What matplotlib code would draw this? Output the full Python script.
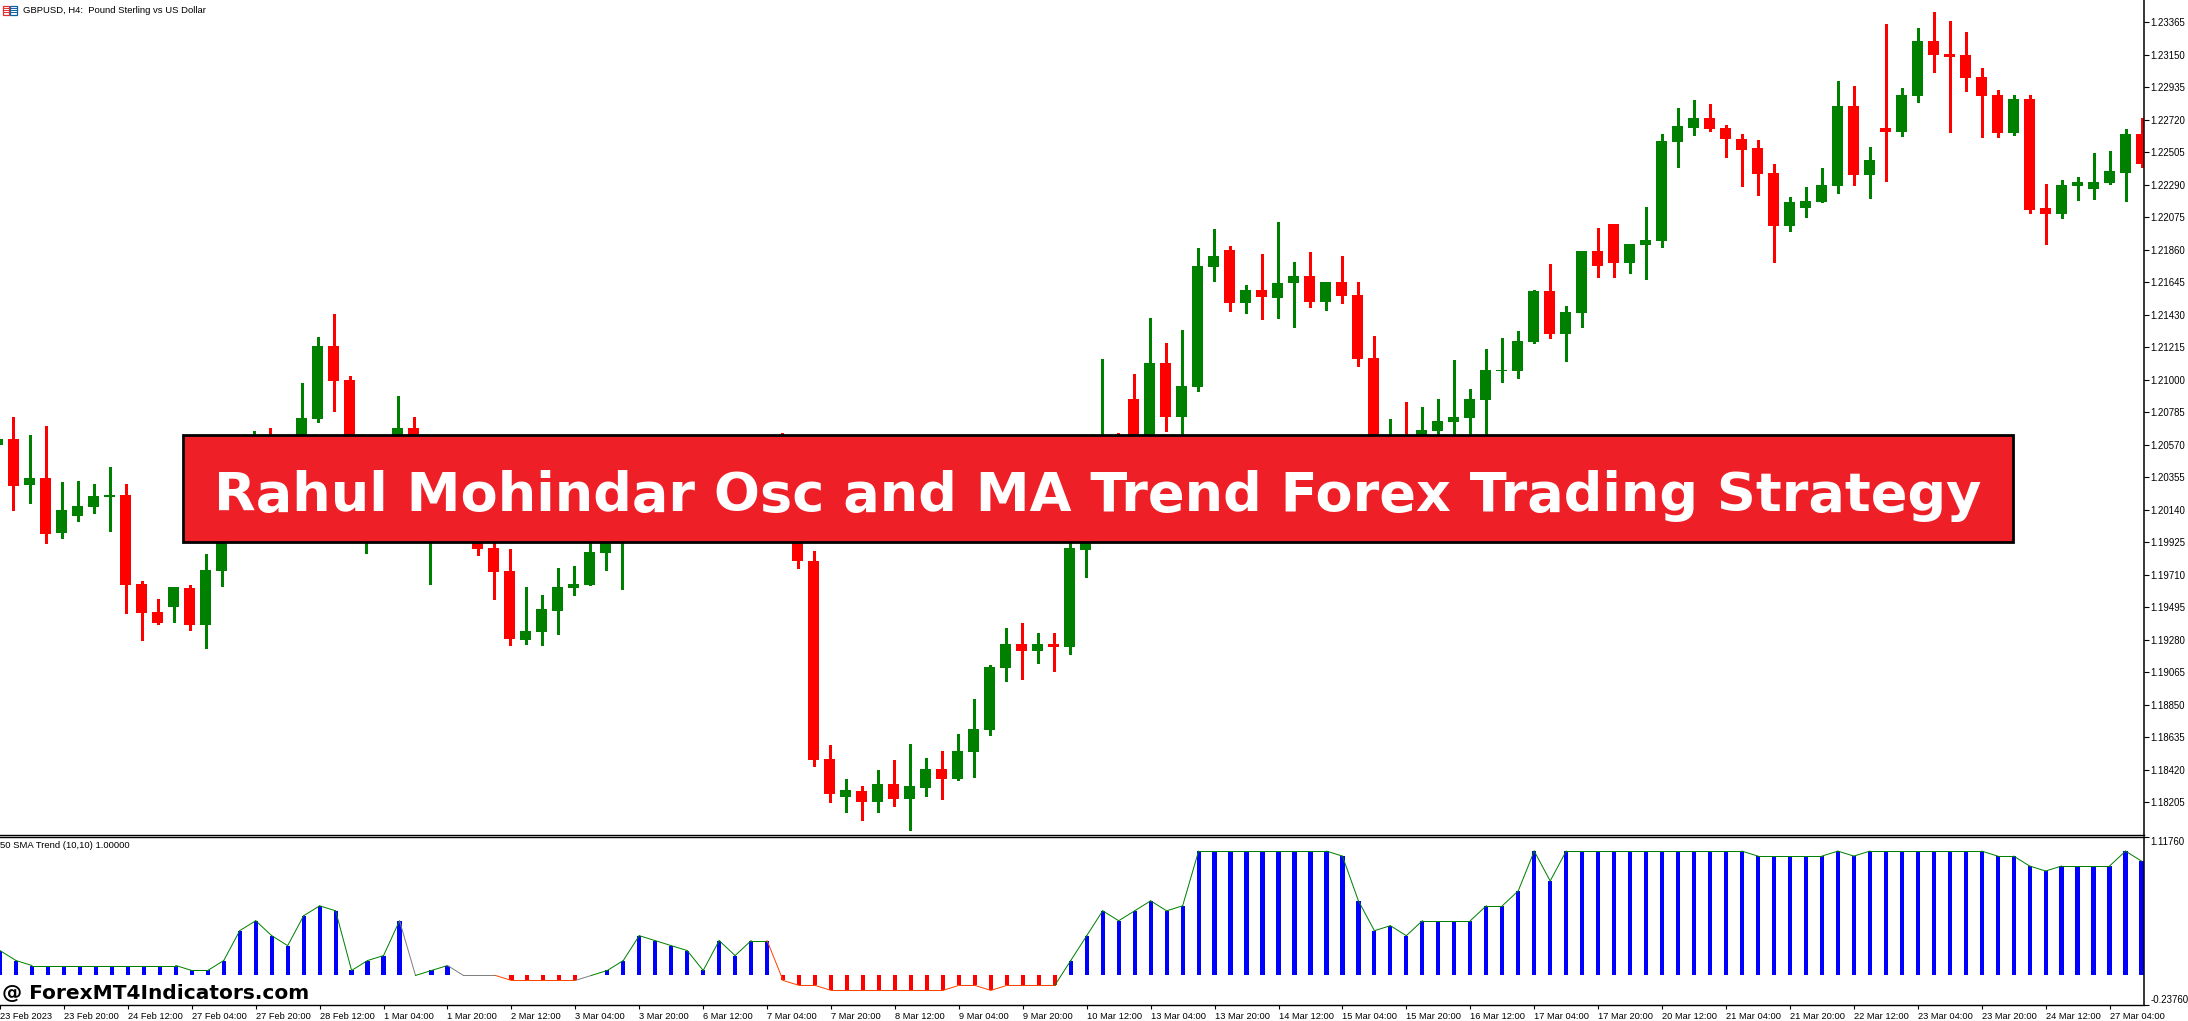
import matplotlib
matplotlib.use("Agg")
import numpy as np
import matplotlib.pyplot as plt
from matplotlib.patches import Rectangle

W, H = 2188, 1021

# first bar sits just off the left edge of the chart
bar_start = -1
opens = [1.20568,1.20608,1.20304,1.20350,1.19986,1.20099,1.20158,1.20224,1.20238,1.19649,1.19464,1.19497,1.19622,1.19378,1.19735,
    1.20337,1.20403,1.20601,1.20436,1.20535,1.20740,1.21223,1.20998,1.20072,1.20403,1.20403,1.20681,1.20138,1.20337,1.20271,
    1.20072,1.19887,1.19735,1.19278,1.19331,1.19470,1.19622,1.19642,1.19854,1.20006,1.20204,1.20138,1.20337,1.20238,1.20337,
    1.20469,1.20271,1.20403,1.20568,1.20535,1.20204,1.19801,1.18491,1.18240,1.18280,1.18207,1.18326,1.18227,1.18299,1.18425,
    1.18359,1.18537,1.18683,1.19093,1.19249,1.19206,1.19249,1.19235,1.19874,1.20072,1.20403,1.20873,1.20403,1.21111,1.20754,
    1.20952,1.21746,1.21858,1.21508,1.21594,1.21541,1.21640,1.21686,1.21514,1.21647,1.21561,1.21144,1.20403,1.20601,1.20535,
    1.20661,1.20720,1.20747,1.20866,1.21058,1.21058,1.21250,1.21587,1.21303,1.21441,1.21852,1.22030,1.21772,1.21891,1.21918,
    1.22573,1.22665,1.22731,1.22665,1.22593,1.22533,1.22368,1.22017,1.22136,1.22176,1.22282,1.22811,1.22354,1.22665,1.22639,
    1.22877,1.23241,1.23155,1.23148,1.23003,1.22884,1.22632,1.22857,1.22136,1.22096,1.22282,1.22262,1.22301,1.22368,1.22626]
highs = [1.20701,1.20754,1.20634,1.20694,1.20324,1.20330,1.20310,1.20423,1.20310,1.19669,1.19550,1.19629,1.19642,1.19847,1.20601,
    1.20615,1.20661,1.20681,1.20601,1.20978,1.21283,1.21435,1.21025,1.20601,1.20535,1.20892,1.20754,1.20601,1.20469,1.20403,
    1.20204,1.19953,1.19880,1.19629,1.19576,1.19755,1.19768,1.19973,1.20204,1.20403,1.20271,1.20403,1.20403,1.20469,1.20535,
    1.20568,1.20568,1.20601,1.20601,1.20648,1.20271,1.19867,1.18584,1.18359,1.18313,1.18418,1.18485,1.18590,1.18498,1.18544,
    1.18657,1.18888,1.19113,1.19358,1.19391,1.19325,1.19322,1.19940,1.20138,1.21137,1.20648,1.21038,1.21408,1.21243,1.21329,
    1.21871,1.21997,1.21885,1.21627,1.21832,1.22044,1.21779,1.21845,1.21647,1.21819,1.21647,1.21289,1.20740,1.20853,1.20820,
    1.20873,1.21131,1.20939,1.21203,1.21276,1.21322,1.21594,1.21766,1.21488,1.21852,1.22004,1.22030,1.21898,1.22143,1.22626,
    1.22798,1.22851,1.22824,1.22685,1.22626,1.22586,1.22427,1.22209,1.22275,1.22401,1.22976,1.22943,1.22540,1.23353,1.22930,
    1.23327,1.23433,1.23373,1.23300,1.23062,1.22917,1.22884,1.22884,1.22295,1.22321,1.22341,1.22500,1.22513,1.22659,1.22731]
lows = [1.20535,1.20138,1.20185,1.19920,1.19953,1.20066,1.20119,1.20000,1.19457,1.19278,1.19384,1.19397,1.19345,1.19225,1.19636,
    1.20271,1.20271,1.20337,1.20337,1.20469,1.20720,1.20793,1.20072,1.19854,1.20204,1.20271,1.20469,1.19649,1.20006,1.19953,
    1.19841,1.19550,1.19245,1.19252,1.19245,1.19318,1.19576,1.19642,1.19741,1.19616,1.20006,1.20072,1.20138,1.20171,1.20271,
    1.20204,1.20204,1.20337,1.20138,1.20072,1.19755,1.18445,1.18207,1.18141,1.18088,1.18141,1.18180,1.18021,1.18247,1.18227,
    1.18352,1.18372,1.18650,1.19007,1.19020,1.19126,1.19073,1.19186,1.19692,1.20006,1.20138,1.20337,1.20337,1.20661,1.20568,
    1.20926,1.21653,1.21455,1.21441,1.21402,1.21408,1.21349,1.21481,1.21461,1.21508,1.21091,1.20171,1.20337,1.20337,1.20469,
    1.20601,1.20568,1.20601,1.20535,1.20985,1.21012,1.21243,1.21276,1.21124,1.21349,1.21680,1.21680,1.21706,1.21666,1.21878,
    1.22407,1.22619,1.22645,1.22473,1.22282,1.22222,1.21779,1.21984,1.22077,1.22176,1.22235,1.22288,1.22202,1.22315,1.22612,
    1.22837,1.23036,1.22639,1.22910,1.22606,1.22606,1.22619,1.22103,1.21898,1.22070,1.22189,1.22196,1.22295,1.22182,1.22407]
closes = [1.20608,1.20297,1.20350,1.19980,1.20138,1.20165,1.20231,1.20238,1.19642,1.19457,1.19391,1.19629,1.19378,1.19741,1.20337,
    1.20568,1.20601,1.20436,1.20568,1.20747,1.21223,1.20992,1.20204,1.20403,1.20271,1.20681,1.20568,1.20403,1.20204,1.20006,
    1.19880,1.19728,1.19285,1.19338,1.19483,1.19629,1.19649,1.19860,1.20138,1.20204,1.20072,1.20337,1.20204,1.20403,1.20469,
    1.20271,1.20502,1.20568,1.20204,1.20204,1.19801,1.18485,1.18260,1.18286,1.18207,1.18326,1.18227,1.18313,1.18425,1.18359,
    1.18544,1.18690,1.19100,1.19249,1.19206,1.19249,1.19235,1.19887,1.20072,1.20403,1.20204,1.20403,1.21111,1.20754,1.20959,
    1.21752,1.21819,1.21508,1.21594,1.21547,1.21640,1.21686,1.21514,1.21647,1.21554,1.21137,1.20271,1.20601,1.20403,1.20668,
    1.20724,1.20754,1.20873,1.21064,1.21064,1.21256,1.21587,1.21303,1.21448,1.21852,1.21752,1.21772,1.21898,1.21924,1.22579,
    1.22679,1.22731,1.22659,1.22593,1.22520,1.22361,1.22017,1.22176,1.22182,1.22288,1.22811,1.22354,1.22454,1.22639,1.22884,
    1.23241,1.23148,1.23135,1.22996,1.22877,1.22632,1.22857,1.22123,1.22096,1.22288,1.22308,1.22308,1.22381,1.22626,1.22427]

# oscillator values, same bars as the candles
osc_values = [0.20,0.12,0.08,0.08,0.08,0.08,0.08,0.08,0.08,0.08,0.08,0.08,0.04,0.04,0.12,0.36,0.44,0.32,0.24,0.48,0.56,0.52,
    0.04,0.12,0.16,0.44,0.00,0.04,0.08,0.00,0.00,0.00,-0.04,-0.04,-0.04,-0.04,-0.04,0.00,0.04,0.12,0.32,0.28,0.24,0.20,0.04,
    0.28,0.16,0.28,0.28,-0.04,-0.08,-0.08,-0.12,-0.12,-0.12,-0.12,-0.12,-0.12,-0.12,-0.12,-0.08,-0.08,-0.12,-0.08,-0.08,-0.08,
    -0.08,0.12,0.32,0.52,0.44,0.52,0.60,0.52,0.56,1.00,1.00,1.00,1.00,1.00,1.00,1.00,1.00,1.00,0.96,0.60,0.36,0.40,0.32,0.44,
    0.44,0.44,0.44,0.56,0.56,0.68,1.00,0.76,1.00,1.00,1.00,1.00,1.00,1.00,1.00,1.00,1.00,1.00,1.00,1.00,0.96,0.96,0.96,0.96,
    0.96,1.00,0.96,1.00,1.00,1.00,1.00,1.00,1.00,1.00,1.00,0.96,0.96,0.88,0.84,0.88,0.88,0.88,0.88,1.00,0.92]

price_ticks = ["1.23365","1.23150","1.22935","1.22720","1.22505","1.22290","1.22075","1.21860","1.21645","1.21430","1.21215","1.21000",
    "1.20785","1.20570","1.20355","1.20140","1.19925","1.19710","1.19495","1.19280","1.19065","1.18850","1.18635","1.18420","1.18205"]

date_labels = ["23 Feb 2023","23 Feb 20:00","24 Feb 12:00","27 Feb 04:00","27 Feb 20:00","28 Feb 12:00","1 Mar 04:00","1 Mar 20:00",
    "2 Mar 12:00","3 Mar 04:00","3 Mar 20:00","6 Mar 12:00","7 Mar 04:00","7 Mar 20:00","8 Mar 12:00","9 Mar 04:00","9 Mar 20:00",
    "10 Mar 12:00","13 Mar 04:00","13 Mar 20:00","14 Mar 12:00","15 Mar 04:00","15 Mar 20:00","16 Mar 12:00","17 Mar 04:00",
    "17 Mar 20:00","20 Mar 12:00","21 Mar 04:00","21 Mar 20:00","22 Mar 12:00","23 Mar 04:00","23 Mar 20:00","24 Mar 12:00","27 Mar 04:00"]

title = "Rahul Mohindar Osc and MA Trend Forex Trading Strategy"
watermark = "@ ForexMT4Indicators.com"
symbol_label = "GBPUSD, H4:  Pound Sterling vs US Dollar"
osc_label = "50 SMA Trend (10,10) 1.00000"

GREEN = "#008000"
RED = "#FF0000"
BLUE = "#0000FF"
FONT = "Liberation Sans"
HEAVY_FONT = "DejaVu Sans"


def fig_rect(left, top, right, bottom):
    # pixel box (y down) to figure fractions
    return [left / W, 1 - bottom / H, (right - left) / W, (bottom - top) / H]


plt.rcParams["font.family"] = FONT
fig = plt.figure(figsize=(W / 100, H / 100), dpi=100, facecolor="white")
ax = fig.add_axes(fig_rect(0, 0, 2144.3, 834.5))
ax_osc = fig.add_axes(fig_rect(0, 836.5, 2144.3, 1005))

xs = np.arange(len(opens)) + bar_start
o, h, l, c = map(np.array, (opens, highs, lows, closes))
colors = [GREEN if b >= a else RED for a, b in zip(o, c)]

# candles
ax.vlines(xs, l, h, colors=colors, linewidth=0.75, antialiased=False)
ax.bar(xs, np.abs(c - o), bottom=np.minimum(o, c), width=11 / 16, color=colors, linewidth=0, antialiased=False)
x_range = (-13.5 / 16, (2144.3 - 13.5) / 16)
ax.set_xlim(*x_range)
ax.set_ylim(1.17992, 1.23512)
ax.set_xticks([])
ax.yaxis.tick_right()
ax.set_yticks([float(t) for t in price_ticks], price_ticks)

# oscillator histogram, then the line coloured by the end point of each segment
osc = np.array(osc_values)
osc_colors = [BLUE if v > 0 else RED for v in osc]
ax_osc.bar(xs, osc, width=4.2 / 16, color=osc_colors, linewidth=0, antialiased=False)
for i in range(1, len(osc)):
    seg_color = GREEN if osc[i] > 0 else ("#FF4500" if osc[i] < 0 else "#808080")
    ax_osc.plot(xs[i - 1:i + 1], osc[i - 1:i + 1], color=seg_color, linewidth=0.72)
ax_osc.set_xlim(*x_range)
ax_osc.set_ylim(-0.2376, 1.1176)
ax_osc.yaxis.tick_right()
ax_osc.set_yticks([1.1176, -0.2376], ["1.11760", "-0.23760"])
ax_osc.get_yticklabels()[0].set_va("top")
ax_osc.get_yticklabels()[1].set_va("bottom")
ax_osc.set_xticks(bar_start + 4 * np.arange(len(date_labels)), date_labels, ha="left")

for a in (ax, ax_osc):
    a.spines["top"].set_visible(a is ax_osc)
    a.spines["left"].set_visible(False)
    for s in a.spines.values():
        s.set_linewidth(1.0)
    a.spines["right"].set_linewidth(1.1)
    a.tick_params(axis="y", length=3.6, width=0.8, pad=0.7, labelsize=6.9)
    a.tick_params(axis="x", length=3.2, width=0.8, pad=1.5, labelsize=6.7)

fig.text(0, 1 - 845 / H, osc_label, fontsize=6.8, va="center", ha="left")

# symbol caption with its small icon
fig.text(22.7 / W, 1 - 10.7 / H, symbol_label, fontsize=6.8, va="center", ha="left")
fig.add_artist(Rectangle((2.5 / W, 1 - 15 / H), 6.5 / W, 9 / H, fill=False, ec="#E03030", lw=0.9, transform=fig.transFigure))
fig.add_artist(Rectangle((10 / W, 1 - 15 / H), 6.5 / W, 9 / H, fill=False, ec="#1060A0", lw=0.9, transform=fig.transFigure))
for y in (8.5, 10.5, 12.5):
    fig.add_artist(plt.Line2D([3.5 / W, 8.5 / W], [1 - y / H] * 2, color="#E03030", lw=0.7))
    fig.add_artist(plt.Line2D([11 / W, 16 / W], [1 - y / H] * 2, color="#1060A0", lw=0.7))

# banner across the middle
left, top, right, bottom = fig_rect(183, 435, 2013, 542)
fig.add_artist(Rectangle((left, top), right, bottom, fc="#EE1F27", ec="black", lw=2.0,
                         transform=fig.transFigure, zorder=10))
fig.text((212 + 1984) / 2 / W, 1 - 511.5 / H, title, color="white", fontsize=39, fontweight="bold",
         family=HEAVY_FONT, ha="center", va="baseline", zorder=11)
fig.text(2 / W, 1 - 993 / H, watermark, color="black", fontsize=14.5, fontweight="bold", family=HEAVY_FONT,
         va="center", ha="left", zorder=11)

fig.savefig("out.png", dpi=100, facecolor="white")
